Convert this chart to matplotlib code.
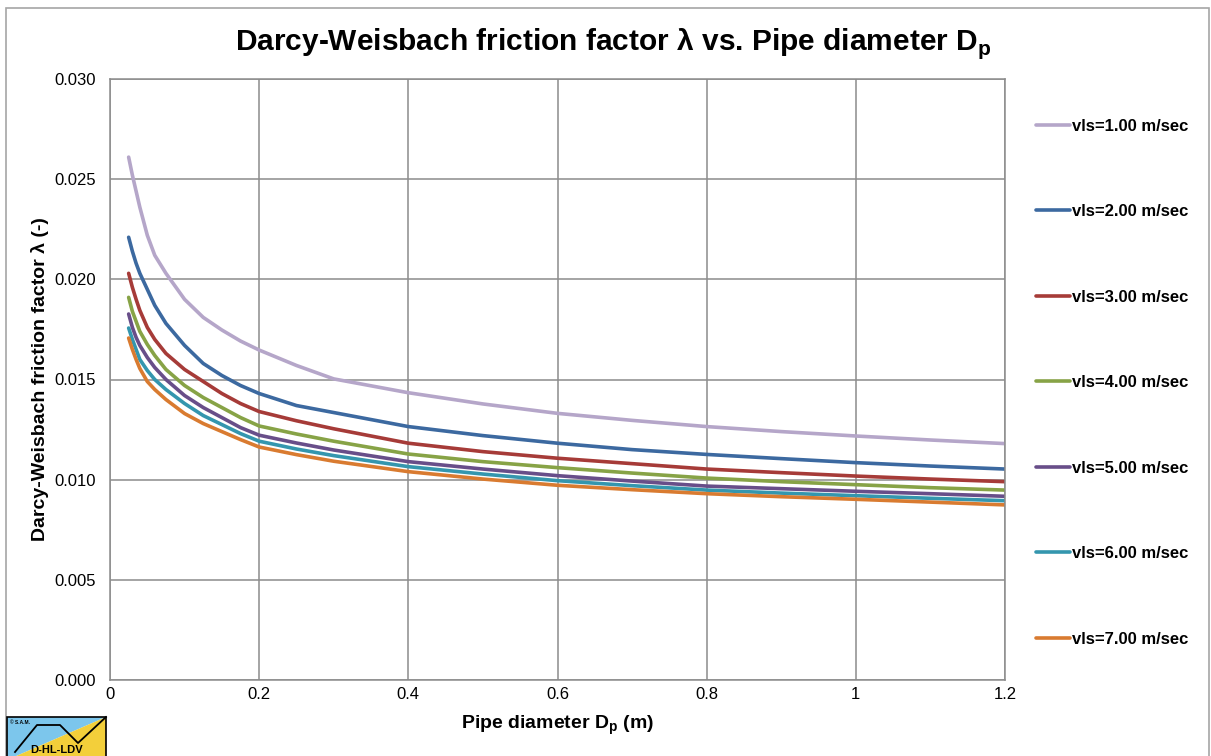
import matplotlib
matplotlib.use("Agg")
import matplotlib.pyplot as plt
from matplotlib.patches import Rectangle, Polygon
from matplotlib.lines import Line2D

plt.rcParams['font.family'] = ['Liberation Sans', 'DejaVu Sans']

# ---- data ----
diameters = [0.025, 0.03, 0.035, 0.04, 0.05, 0.06, 0.075, 0.1, 0.125, 0.15, 0.175, 0.2,
             0.25, 0.3, 0.4, 0.5, 0.6, 0.7, 0.8, 0.9, 1.0, 1.1, 1.2]
labels = ["vls=1.00 m/sec", "vls=2.00 m/sec", "vls=3.00 m/sec", "vls=4.00 m/sec",
          "vls=5.00 m/sec", "vls=6.00 m/sec", "vls=7.00 m/sec"]
lam_v1 = [0.0261, 0.0252, 0.0244, 0.0236, 0.0222, 0.0212, 0.0203, 0.0190, 0.0181, 0.01747,
          0.01692, 0.01647, 0.0157, 0.01503, 0.01434, 0.01378, 0.01331, 0.01296, 0.01265,
          0.0124, 0.01218, 0.01198, 0.0118]
lam_v2 = [0.0221, 0.0214, 0.0208, 0.0203, 0.0195, 0.0187, 0.0178, 0.0167, 0.0158, 0.0152,
          0.0147, 0.0143, 0.0137, 0.01335, 0.01265, 0.0122, 0.01182, 0.0115, 0.01126,
          0.01105, 0.01085, 0.01068, 0.01053]
lam_v3 = [0.0203, 0.0196, 0.0190, 0.01845, 0.0176, 0.0170, 0.0163, 0.0155, 0.0149, 0.0143,
          0.0138, 0.0134, 0.01294, 0.01254, 0.01182, 0.0114, 0.01107, 0.0108, 0.01053,
          0.01035, 0.01018, 0.01003, 0.0099]
lam_v4 = [0.0191, 0.0184, 0.0179, 0.0174, 0.01675, 0.0162, 0.0155, 0.0147, 0.0141, 0.0136,
          0.0131, 0.01268, 0.01228, 0.01192, 0.01128, 0.0109, 0.0106, 0.01033, 0.01008,
          0.0099, 0.00975, 0.0096, 0.00948]
lam_v5 = [0.01827, 0.0176, 0.0171, 0.0167, 0.0161, 0.0156, 0.0150, 0.0142, 0.0136, 0.0131,
          0.0126, 0.01222, 0.01183, 0.01148, 0.0109, 0.01053, 0.0102, 0.00993, 0.00968,
          0.00955, 0.00942, 0.0093, 0.00917]
lam_v6 = [0.01757, 0.0170, 0.0165, 0.0160, 0.01545, 0.0150, 0.0145, 0.0138, 0.0132, 0.01275,
          0.0123, 0.01192, 0.01153, 0.0112, 0.01065, 0.01028, 0.00995, 0.0097, 0.00948,
          0.00933, 0.0092, 0.00907, 0.00895]
lam_v7 = [0.01707, 0.0165, 0.0160, 0.01555, 0.0149, 0.0145, 0.0140, 0.0133, 0.0128, 0.0124,
          0.0120, 0.01163, 0.01125, 0.01092, 0.0104, 0.01003, 0.00972, 0.0095, 0.0093,
          0.00915, 0.00902, 0.00888, 0.00874]
series = [lam_v1, lam_v2, lam_v3, lam_v4, lam_v5, lam_v6, lam_v7]
colors = ["#B5A6C9", "#3C69A0", "#A63B38", "#87A346", "#684E89", "#3496AE", "#D97B30"]

x_ticks = [0, 0.2, 0.4, 0.6, 0.8, 1.0, 1.2]
x_tick_labels = ["0", "0.2", "0.4", "0.6", "0.8", "1", "1.2"]
y_ticks = [0.0, 0.005, 0.010, 0.015, 0.020, 0.025, 0.030]
y_tick_labels = ["0.000", "0.005", "0.010", "0.015", "0.020", "0.025", "0.030"]

W, H = 1211, 756
fig = plt.figure(figsize=(W / 100, H / 100), dpi=100)
ax = fig.add_axes([110 / W, 1 - 680 / H, (1005 - 110) / W, (680 - 79) / H])

grid_c = "#8C8C8C"
for vals, c, lab in zip(series, colors, labels):
    ax.plot(diameters, vals, color=c, lw=2.6, label=lab, solid_capstyle='round',
            solid_joinstyle='round')

ax.set_xlim(0, 1.2)
ax.set_ylim(0, 0.030)
ax.set_xticks(x_ticks)
ax.set_xticklabels(x_tick_labels)
ax.set_yticks(y_ticks)
ax.set_yticklabels(y_tick_labels)
ax.tick_params(axis='both', length=0, labelsize=12, colors='black')
ax.tick_params(axis='y', pad=10)
ax.tick_params(axis='x', pad=5)
ax.grid(True, color=grid_c, lw=1.1)
ax.set_axisbelow(True)
for s in ax.spines.values():
    s.set_color(grid_c)
    s.set_linewidth(1.1)

ax.set_xlabel("Pipe diameter D$_\\mathregular{p}$ (m)", fontsize=14, fontweight='bold',
              labelpad=8)
ax.set_ylabel("Darcy-Weisbach friction factor λ (-)", fontsize=14, fontweight='bold',
              labelpad=4)

fig.text(0.506, 1 - 44 / H, "Darcy-Weisbach friction factor λ vs. Pipe diameter D$_\\mathregular{p}$",
         ha='center', va='center', fontsize=21.5, fontweight='bold')

leg = ax.legend(loc='upper left', bbox_to_anchor=(1029 / W, 1 - 112 / H),
                bbox_transform=fig.transFigure, frameon=False,
                prop={'weight': 'bold', 'size': 12}, labelspacing=4.23,
                handlelength=2.05, handletextpad=0.1, borderaxespad=0)

# outer chart border
fig.patches.append(Rectangle((6 / W, 1 - 770 / H), (1209 - 6) / W, (770 - 8) / H,
                             transform=fig.transFigure, fill=False,
                             edgecolor="#A6A6A6", lw=1.2))

# logo in lower-left corner
lx0, lx1, ly0, ly1 = 7, 106, 717, 760
def fp(x, y):
    return (x / W, 1 - y / H)
fig.patches.append(Polygon([fp(lx0, ly0), fp(lx1, ly0), fp(lx0, ly1)], closed=True,
                           transform=fig.transFigure, facecolor="#7CC6EC", edgecolor='none'))
fig.patches.append(Polygon([fp(lx1, ly0), fp(lx1, ly1), fp(lx0, ly1)], closed=True,
                           transform=fig.transFigure, facecolor="#F3CF3A", edgecolor='none'))
fig.patches.append(Rectangle(fp(lx0, ly1), (lx1 - lx0) / W, (ly1 - ly0) / H,
                             transform=fig.transFigure, fill=False, edgecolor='black', lw=1.2))
zig = [fp(lx0 + 8, ly1 - 8), fp(37, 725), fp(60, 725), fp(78, 743), fp(lx1, ly0)]
fig.lines.append(Line2D([p[0] for p in zig], [p[1] for p in zig], transform=fig.transFigure,
                        color='black', lw=1.3))
fig.text(10 / W, 1 - 722 / H, "© S.A.M.", fontsize=3.5, fontweight='bold', va='center')
fig.text(57 / W, 1 - 750 / H, "D-HL-LDV", fontsize=8, fontweight='bold', ha='center',
         va='center')

fig.savefig("out.png", dpi=100)
